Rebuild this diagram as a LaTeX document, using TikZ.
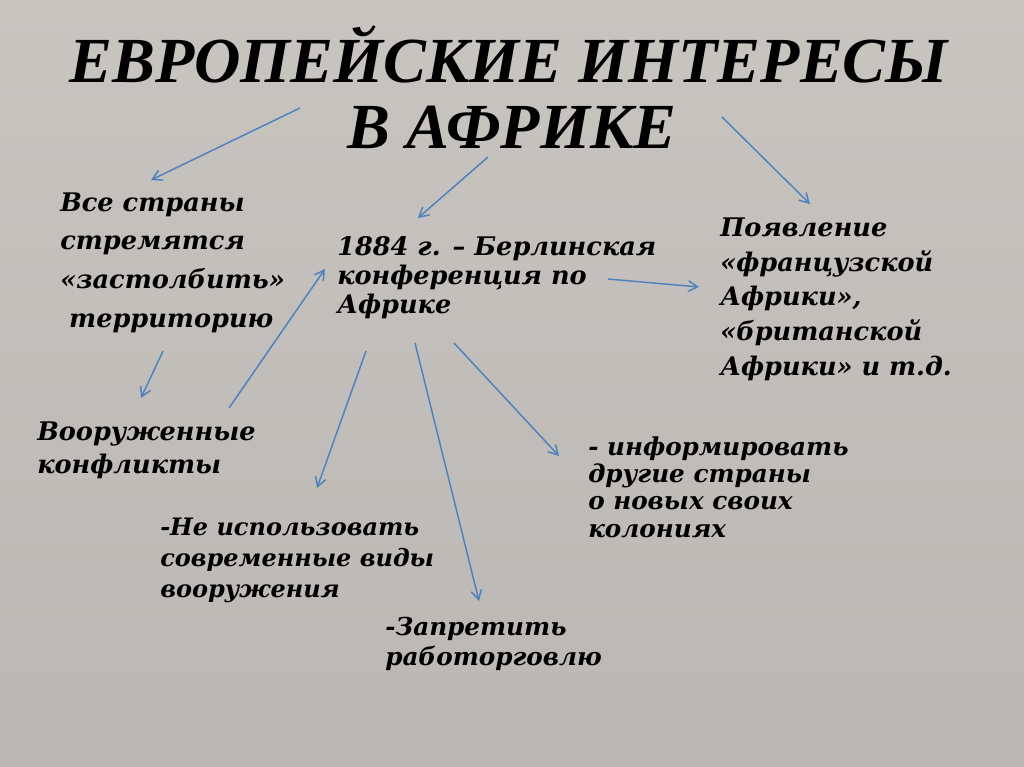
\documentclass[tikz,border=0pt]{standalone}
\usepackage{fontspec}
\setmainfont{DejaVu Serif}
\newfontfamily\titlefont{Liberation Serif}
\usetikzlibrary{arrows.meta}
\definecolor{arrowblue}{RGB}{79,129,189}
\definecolor{bgtop}{RGB}{200,196,192}
\definecolor{bgmid}{RGB}{196,192,188}
\definecolor{bgbot}{RGB}{186,183,180}
\tikzstyle{txt}=[anchor=base west,inner sep=0,align=left,text=black]
\tikzstyle{arr}=[draw=arrowblue,line width=1.1pt,-{Straight Barb[length=7pt,width=8pt]}]
\newcommand{\bodyfont}[2]{\bfseries\itshape\fontsize{#1}{#2}\selectfont}

\begin{document}
\begin{tikzpicture}[x=0.75pt,y=-0.75pt]
 % background
 \shade[top color=bgtop,middle color=bgmid,bottom color=bgbot] (0,0) rectangle (1024,767);
 \useasboundingbox (0,0) rectangle (1024,767);
 % title
 \node[anchor=base,inner sep=0,font=\titlefont\bfseries\itshape\fontsize{48.2}{48.2}\selectfont] (title1) at (509,83) {ЕВРОПЕЙСКИЕ ИНТЕРЕСЫ};
 \node[anchor=base,inner sep=0,font=\titlefont\bfseries\itshape\fontsize{48.2}{48.2}\selectfont] (title2) at (512,148) {В АФРИКЕ};
 % text blocks (placed at the baseline of their last line)
 \node[txt,font=\bodyfont{19.2}{28.9pt}] (all) at (60,327) {Все страны\\стремятся\\«застолбить»\\\ территорию};
 \node[txt,font=\bodyfont{19.2}{21.75pt}] (berlin) at (337,313) {1884 г. – Берлинская\\конференция по\\Африке};
 \node[txt,font=\bodyfont{19.2}{25.9pt}] (french) at (720,375) {Появление\\«французской\\Африки»,\\«британской\\Африки» и т.д.};
 \node[txt,font=\bodyfont{19.2}{24.75pt}] (war) at (37,473) {Вооруженные\\конфликты};
 \node[txt,font=\bodyfont{18}{23.25pt}] (arms) at (160,597) {-Не использовать\\современные виды\\вооружения};
 \node[txt,font=\bodyfont{18.5}{22.5pt}] (slave) at (385,665) {-Запретить\\работорговлю};
 \node[txt,font=\bodyfont{18.5}{20.5pt}] (inform) at (588,537) {- информировать\\другие страны\\о новых своих\\колониях};
 % arrow ends
 \coordinate (t1) at (300,108); \coordinate (a1) at (151,180);
 \coordinate (t2) at (488,157); \coordinate (b1) at (418,218);
 \coordinate (t3) at (722,117); \coordinate (f1) at (810,204);
 \coordinate (a2) at (163,351); \coordinate (w1) at (141,398);
 \coordinate (w2) at (229,408); \coordinate (b2) at (325,269);
 \coordinate (b3) at (608,279); \coordinate (f2) at (699,287);
 \coordinate (b4) at (366,351); \coordinate (n1) at (317,488);
 \coordinate (b5) at (415,343); \coordinate (s1) at (479,601);
 \coordinate (b6) at (454,343); \coordinate (i1) at (559,456);
 \foreach \from/\to in {t1/a1,t2/b1,t3/f1,a2/w1,w2/b2,b3/f2,b4/n1,b5/s1,b6/i1}
  \draw[arr] (\from) -- (\to);
\end{tikzpicture}
\end{document}
